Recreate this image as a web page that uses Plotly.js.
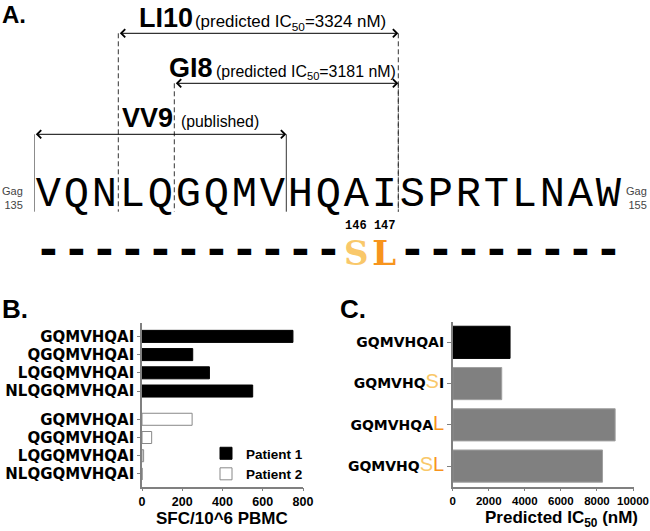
<!DOCTYPE html>
<html>
<head>
<meta charset="utf-8">
<script src="https://cdn.plot.ly/plotly-3.0.1.min.js"></script>
<style>
  html, body { margin: 0; padding: 0; background: #fff; }
  #chart { width: 650px; height: 531px; }
</style>
</head>
<body>
<div id="chart"></div>
<script>
// Panel A: Gag 135-155, mapped epitopes and the escape mutations
const sequence = ['V','Q','N','L','Q','G','Q','M','V','H','Q','A','I','S','P','R','T','L','N','A','W'];
const seqStart = 135;
const epitopeNames = ['LI10', 'GI8', 'VV9'];
const epitopeNotes = ['(predicted IC<sub>50</sub>=3324 nM)', '(predicted IC<sub>50</sub>=3181 nM)', '(published)'];
const epitopeFrom = [3, 5, 0];   // first residue index
const epitopeTo = [13, 13, 9];   // index after the last residue
const mutSites = [146, 147];
const mutResidues = ['S', 'L'];
const mutColors = ['#f9c86a', '#f7941d'];

// Panel B: SFC/10^6 PBMC
const peptidesB = ['GQMVHQAI', 'QGQMVHQAI', 'LQGQMVHQAI', 'NLQGQMVHQAI'];
const patient1 = [750, 252, 335, 550];
const patient2 = [249, 48, 8, 0];
const ticksB = [0, 200, 400, 600, 800];

// Panel C: predicted IC50 (nM)
const peptidesC = ['GQMVHQAI', 'GQMVHQSI', 'GQMVHQAL', 'GQMVHQSL'];
const ic50 = [3181, 2720, 9010, 8310];
const ticksC = [0, 2000, 4000, 6000, 8000, 10000];

const W = 650, H = 531;
const px = v => v / W;
const py = v => 1 - v / H;

// --- panel A traces (x3 = residue index, y3 = page rows) ---
const seqX = sequence.map((s, i) => i + 0.5);
const mutIdx = mutSites.map(s => s - seqStart);
const sameX = seqX.filter((x, i) => mutIdx.indexOf(i) < 0);
const mutX = mutIdx.map(i => i + 0.5);
const siteX = (mutIdx[0] + mutIdx[mutIdx.length - 1]) / 2 + 0.5;

const seqTrace = {
    x: seqX, y: seqX.map(() => 195.3), text: sequence,
    mode: 'text', type: 'scatter', xaxis: 'x3', yaxis: 'y3',
    textfont: {family: 'Liberation Mono, Courier New, monospace', size: 42, color: '#000'},
    hoverinfo: 'skip', showlegend: false
};
// unchanged residues are written as dashes
const dashTrace = {
    x: sameX, y: sameX.map(() => 253.5), text: sameX.map(() => '-'),
    mode: 'text', type: 'scatter', xaxis: 'x3', yaxis: 'y3',
    textfont: {family: 'DejaVu Sans', size: 44, weight: 'bold', color: '#000'},
    hoverinfo: 'skip', showlegend: false
};
const mutTrace = {
    x: mutX, y: mutX.map(() => 256.4), text: mutResidues,
    mode: 'text', type: 'scatter', xaxis: 'x3', yaxis: 'y3',
    textfont: {family: 'DejaVu Serif', size: 34, weight: 'bold', color: mutColors},
    hoverinfo: 'skip', showlegend: false
};
const siteTrace = {
    x: [siteX], y: [226], text: [mutSites.join(' ')],
    mode: 'text', type: 'scatter', xaxis: 'x3', yaxis: 'y3',
    textfont: {family: 'Liberation Mono, Courier New, monospace', size: 12, weight: 'bold', color: '#000'},
    hoverinfo: 'skip', showlegend: false
};

// --- panel B ---
const rowPos = i => i + (i >= peptidesB.length ? 0.55 : 0);
const yB1 = peptidesB.map((p, i) => rowPos(i));
const yB2 = peptidesB.map((p, i) => rowPos(i + peptidesB.length));

const p1Trace = {
    x: patient1, y: yB1, type: 'bar', orientation: 'h', width: 0.66,
    name: 'Patient 1', marker: {color: '#000', line: {color: '#000', width: 1}},
    xaxis: 'x', yaxis: 'y'
};
const p2Trace = {
    x: patient2, y: yB2, type: 'bar', orientation: 'h', width: 0.66,
    name: 'Patient 2', marker: {color: '#fff', line: {color: '#888', width: 1}},
    xaxis: 'x', yaxis: 'y'
};

// --- panel C ---
const wild = peptidesC[0];
const tickC = peptidesC.map(p => p.split('').map((c, i) => {
    if (c === wild[i]) return c;
    const k = mutResidues.indexOf(c);
    return `<span style="font-size:20px;font-weight:normal;font-family:Liberation Sans;fill:${mutColors[k]}">${c}</span>`;
}).join(''));
const cTrace = {
    x: ic50, y: peptidesC.map((p, i) => i), type: 'bar', orientation: 'h', width: 0.78,
    marker: {color: peptidesC.map((p, i) => i === 0 ? '#000' : '#808080'),
             line: {color: peptidesC.map((p, i) => i === 0 ? '#000' : '#a0a0a0'), width: 1}},
    showlegend: false, xaxis: 'x2', yaxis: 'y2'
};

const shapes = [];
const annotations = [];
const arrowY = [33.3, 83.3, 134.3];
const nameRight = [193.5, 214, 174];
const noteX = [194, 215, 180];
const labelBase = [26.5, 76, 126];
const noteSize = [16.9, 15.9, 15.8];
const nameSize = 27;
const lineBottom = 211.7;

epitopeNames.forEach((name, k) => {
    const dash = name === 'VV9' ? 'solid' : '5px,3px';
    [epitopeFrom[k], epitopeTo[k]].forEach(xv => {
        shapes.push({
            type: 'line', xref: 'x3', yref: 'y3', x0: xv, x1: xv, y0: arrowY[k], y1: lineBottom,
            line: {color: '#333', width: 1, dash: dash}
        });
    });
    annotations.push({
        xref: 'x3', yref: 'y3', axref: 'x3', ayref: 'y3',
        x: epitopeTo[k], y: arrowY[k], ax: epitopeFrom[k], ay: arrowY[k],
        text: '', showarrow: true, arrowside: 'end+start',
        arrowhead: 4, startarrowhead: 4, arrowsize: 1.6, startarrowsize: 1.6,
        arrowwidth: 1, arrowcolor: '#000', standoff: 0, startstandoff: 0
    });
    // name and note share a baseline; top of the text box = baseline - 0.905 * size
    annotations.push({
        xref: 'paper', yref: 'paper', x: px(nameRight[k]), y: py(labelBase[k] - 0.905 * nameSize),
        xanchor: 'right', yanchor: 'top', showarrow: false, borderpad: 0,
        text: `<b>${name}</b>`,
        font: {family: 'Liberation Sans, Arial', size: nameSize, color: '#000'}
    });
    annotations.push({
        xref: 'paper', yref: 'paper', x: px(noteX[k]), y: py(labelBase[k] - 0.905 * noteSize[k]),
        xanchor: 'left', yanchor: 'top', showarrow: false, borderpad: 0,
        text: epitopeNotes[k],
        font: {family: 'Liberation Sans, Arial', size: noteSize[k], color: '#000'}
    });
});

// residue numbers at both ends
annotations.push({
    xref: 'paper', yref: 'paper', x: px(25), y: py(197.5), xanchor: 'right', yanchor: 'middle',
    align: 'right', showarrow: false, text: `Gag<br>${seqStart}`,
    font: {family: 'Liberation Sans, Arial', size: 11, color: '#444'}
});
annotations.push({
    xref: 'paper', yref: 'paper', x: px(624), y: py(197.5), xanchor: 'left', yanchor: 'middle',
    align: 'right', showarrow: false, text: `Gag<br>${seqStart + sequence.length - 1}`,
    font: {family: 'Liberation Sans, Arial', size: 11, color: '#444'}
});

// panel letters
[['A.', 1, 0, 24], ['B.', 1, 293, 26], ['C.', 339, 293, 26]].forEach(l => {
    annotations.push({
        xref: 'paper', yref: 'paper', x: px(l[1]), y: py(l[2]), xanchor: 'left', yanchor: 'top',
        showarrow: false, borderpad: 0, text: `<b>${l[0]}</b>`,
        font: {family: 'Liberation Sans, Arial', size: l[3], color: '#000'}
    });
});

// axis titles
annotations.push({
    xref: 'paper', yref: 'paper', x: px(222), y: py(518), xanchor: 'center', yanchor: 'middle',
    showarrow: false, text: '<b>SFC/10^6 PBMC</b>',
    font: {family: 'Liberation Sans, Arial', size: 17, color: '#000'}
});
annotations.push({
    xref: 'paper', yref: 'paper', x: px(561), y: py(519), xanchor: 'center', yanchor: 'middle',
    showarrow: false, text: '<b>Predicted IC<sub>50</sub> (nM)</b>',
    font: {family: 'Liberation Sans, Arial', size: 17, color: '#000'}
});

const axisLine = {showline: true, linecolor: '#808080', linewidth: 1.5, showgrid: false, zeroline: false,
    ticks: 'outside', ticklen: 3, tickcolor: '#808080', fixedrange: true, tickangle: 0,
    ticklabeloverflow: 'allow'};

// C axis runs a touch past 10000 so the last label is kept
const cMax = 10060;
const cPxPer = (633 - 452.7) / 10000;

const layout = {
    width: W, height: H,
    margin: {l: 0, r: 0, t: 0, b: 0},
    paper_bgcolor: '#fff', plot_bgcolor: 'rgba(0,0,0,0)',
    font: {family: 'Liberation Sans, Arial', color: '#000'},
    showlegend: true,
    legend: {
        x: px(206), y: py(438), xanchor: 'left', yanchor: 'top',
        bgcolor: 'rgba(0,0,0,0)', tracegroupgap: 0,
        font: {family: 'Liberation Sans, Arial', size: 13.5, weight: 'bold', color: '#000'}
    },
    xaxis: Object.assign({}, axisLine, {
        domain: [px(142), px(303)], range: [0, 800], anchor: 'y',
        tickvals: ticksB, ticktext: ticksB.map(String),
        tickfont: {family: 'Liberation Sans, Arial', size: 12.5, weight: 'bold', color: '#000'}
    }),
    yaxis: Object.assign({}, axisLine, {
        domain: [py(486.7), py(322.7)], range: [8.25, -0.75], anchor: 'x',
        tickvals: yB1.concat(yB2), ticktext: peptidesB.concat(peptidesB),
        tickfont: {family: 'DejaVu Sans', size: 15, weight: 'bold', color: '#000'}
    }),
    xaxis2: Object.assign({}, axisLine, {
        domain: [px(452.7), px(452.7 + cMax * cPxPer)], range: [0, cMax], anchor: 'y2',
        tickvals: ticksC, ticktext: ticksC.map(String),
        tickfont: {family: 'Liberation Sans, Arial', size: 11.5, weight: 'bold', color: '#000'}
    }),
    yaxis2: Object.assign({}, axisLine, {
        domain: [py(486.7), py(321.7)], range: [3.5, -0.5], anchor: 'x2',
        tickvals: [0, 1, 2, 3], ticktext: tickC, ticklen: 4,
        tickfont: {family: 'DejaVu Sans', size: 14, weight: 'bold', color: '#000'}
    }),
    xaxis3: {domain: [px(34.3), px(622.3)], range: [0, 21], anchor: 'y3', visible: false, fixedrange: true},
    yaxis3: {domain: [0, 1], range: [H, 0], anchor: 'x3', visible: false, fixedrange: true},
    shapes: shapes,
    annotations: annotations
};

Plotly.newPlot('chart', [p1Trace, p2Trace, cTrace, seqTrace, dashTrace, mutTrace, siteTrace], layout, {displayModeBar: false});
</script>
</body>
</html>
